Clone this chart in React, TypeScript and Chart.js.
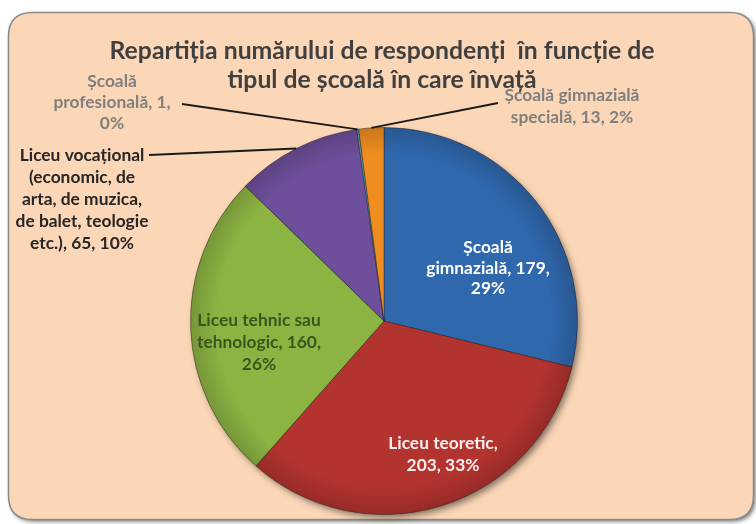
import React, { useEffect, useRef } from "react";
import { Chart, registerables } from "chart.js";

Chart.register(...registerables);

const W = 756;
const H = 524;

const categories = [
  "Școală gimnazială",
  "Liceu teoretic",
  "Liceu tehnic sau tehnologic",
  "Liceu vocațional (economic, de arta, de muzica, de balet, teologie etc.)",
  "Școală profesională",
  "Școală gimnazială specială",
];
const values = [179, 203, 160, 65, 1, 13];
const titleLines = [
  "Repartiția numărului de respondenți  în funcție de",
  "tipul de școală în care învață",
];

const total = values.reduce((a, b) => a + b, 0);
const pct = values.map((v) => `${Math.round((v / total) * 100)}%`);

const labelLines: string[][] = [
  ["Școală", `gimnazială, ${values[0]},`, pct[0]],
  ["Liceu teoretic,", `${values[1]}, ${pct[1]}`],
  ["Liceu tehnic sau", `tehnologic, ${values[2]},`, pct[2]],
  ["Liceu vocațional", "(economic, de", "arta, de muzica,", "de balet, teologie", `etc.), ${values[3]}, ${pct[3]}`],
  ["Școală", `profesională, ${values[4]},`, pct[4]],
  ["Școală gimnazială", `specială, ${values[5]}, ${pct[5]}`],
];

const sliceColors = ["#3068ae", "#b3332f", "#8cb443", "#6e4f9b", "#4bacc6", "#f08d1f"];

// label placement (layout only)
const labelLayout = [
  { kind: "in", dx: 104, dy: -53, color: "#ffffff", step: 20.5 },
  { kind: "in", dx: 59, dy: 133, color: "#f8eeee", step: 22 },
  { kind: "in", dx: -125, dy: 21, color: "#3b5520", step: 22 },
  { kind: "out", x: 82, y: 155, color: "#262626", lx: 149, ly: 155, step: 22 },
  { kind: "out", x: 112, y: 81, color: "#7f7f7f", lx: 182, ly: 104, step: 21 },
  { kind: "out", x: 572, y: 95, color: "#7f7f7f", lx: 498, ly: 103, step: 22 },
];

const FAMILY = "Lato, 'Open Sans', sans-serif";

function fitSize(ctx: CanvasRenderingContext2D, text: string, target: number, weight: string) {
  ctx.font = `${weight} 100px ${FAMILY}`;
  const w = ctx.measureText(text).width;
  return (100 * target) / w;
}

function roundRect(ctx: CanvasRenderingContext2D, x: number, y: number, w: number, h: number, r: number) {
  ctx.beginPath();
  ctx.moveTo(x + r, y);
  ctx.lineTo(x + w - r, y);
  ctx.quadraticCurveTo(x + w, y, x + w, y + r);
  ctx.lineTo(x + w, y + h - r);
  ctx.quadraticCurveTo(x + w, y + h, x + w - r, y + h);
  ctx.lineTo(x + r, y + h);
  ctx.quadraticCurveTo(x, y + h, x, y + h - r);
  ctx.lineTo(x, y + r);
  ctx.quadraticCurveTo(x, y, x + r, y);
  ctx.closePath();
}

const decorPlugin = {
  id: "decor",
  beforeDraw(chart: any) {
    const ctx: CanvasRenderingContext2D = chart.ctx;
    ctx.save();
    ctx.fillStyle = "#ffffff";
    ctx.fillRect(0, 0, W, H);
    ctx.shadowColor = "rgba(0,0,0,0.55)";
    ctx.shadowBlur = 4;
    ctx.shadowOffsetX = 2;
    ctx.shadowOffsetY = 2;
    roundRect(ctx, 8.5, 12.5, 745, 507, 24);
    ctx.fillStyle = "#fcd7b7";
    ctx.fill();
    ctx.shadowColor = "transparent";
    ctx.strokeStyle = "#8a8a8a";
    ctx.lineWidth = 1.5;
    ctx.stroke();

    // title
    const ts = fitSize(ctx, titleLines[0], 545, "bold");
    ctx.font = `bold ${ts}px ${FAMILY}`;
    ctx.fillStyle = "#404040";
    ctx.textAlign = "center";
    ctx.textBaseline = "middle";
    ctx.fillText(titleLines[0], 382, 51);
    ctx.fillText(titleLines[1], 382, 80);
    ctx.restore();
  },
  beforeDatasetsDraw(chart: any) {
    const meta = chart.getDatasetMeta(0);
    const a = meta.data[0];
    if (!a) return;
    const ctx: CanvasRenderingContext2D = chart.ctx;
    ctx.save();
    ctx.shadowColor = "rgba(0,0,0,0.5)";
    ctx.shadowBlur = 7;
    ctx.shadowOffsetX = 3;
    ctx.shadowOffsetY = 4;
    ctx.beginPath();
    ctx.arc(a.x, a.y, a.outerRadius - 1, 0, Math.PI * 2);
    ctx.fillStyle = "#6a5a50";
    ctx.fill();
    ctx.restore();
  },
  afterDatasetsDraw(chart: any) {
    const meta = chart.getDatasetMeta(0);
    const ctx: CanvasRenderingContext2D = chart.ctx;
    ctx.save();
    // subtle bevel rim
    const a0 = meta.data[0];
    if (a0) {
      const r = a0.outerRadius;
      const g = ctx.createRadialGradient(a0.x, a0.y, r * 0.86, a0.x, a0.y, r);
      g.addColorStop(0, "rgba(0,0,0,0)");
      g.addColorStop(1, "rgba(0,0,0,0.16)");
      ctx.beginPath();
      ctx.arc(a0.x, a0.y, r, 0, Math.PI * 2);
      ctx.fillStyle = g;
      ctx.fill();
    }
    const fs = fitSize(ctx, "de balet, teologie", 133, "bold");
    ctx.font = `bold ${fs}px ${FAMILY}`;
    ctx.textAlign = "center";
    ctx.textBaseline = "middle";
    meta.data.forEach((arc: any, i: number) => {
      const lay: any = labelLayout[i];
      const lines = labelLines[i];
      if (lay.kind === "in") {
        const cy = arc.y + lay.dy;
        const y0 = cy - ((lines.length - 1) * lay.step) / 2;
        ctx.fillStyle = lay.color;
        lines.forEach((t, k) => ctx.fillText(t, arc.x + lay.dx, y0 + k * lay.step));
      } else {
        const mid = (arc.startAngle + arc.endAngle) / 2;
        const ex = arc.x + Math.cos(mid) * arc.outerRadius;
        const ey = arc.y + Math.sin(mid) * arc.outerRadius;
        ctx.strokeStyle = "#1a1a1a";
        ctx.lineWidth = 1.8;
        ctx.beginPath();
        ctx.moveTo(lay.lx, lay.ly);
        ctx.lineTo(ex, ey);
        ctx.stroke();
        ctx.fillStyle = lay.color;
        lines.forEach((t, k) => ctx.fillText(t, lay.x, lay.y + k * lay.step));
      }
    });
    ctx.restore();
  },
};

export default function App() {
  const ref = useRef<HTMLCanvasElement | null>(null);
  useEffect(() => {
    if (!ref.current) return;
    const chart = new Chart(ref.current, {
      type: "pie",
      data: {
        labels: categories,
        datasets: [
          {
            data: values,
            backgroundColor: sliceColors,
            borderColor: "rgba(40,30,30,0.45)",
            borderWidth: 1,
          },
        ],
      },
      options: {
        responsive: false,
        animation: false,
        layout: { padding: { top: 127, bottom: 9, left: 190, right: 178 } },
        plugins: {
          legend: { display: false },
          tooltip: { enabled: false },
          title: { display: false },
        },
      },
      plugins: [decorPlugin],
    });
    return () => chart.destroy();
  }, []);
  return (
    <div style={{ position: "fixed", left: 0, top: 0, width: W, height: H }}>
      <canvas ref={ref} width={W} height={H} style={{ display: "block", width: W, height: H }} />
    </div>
  );
}
